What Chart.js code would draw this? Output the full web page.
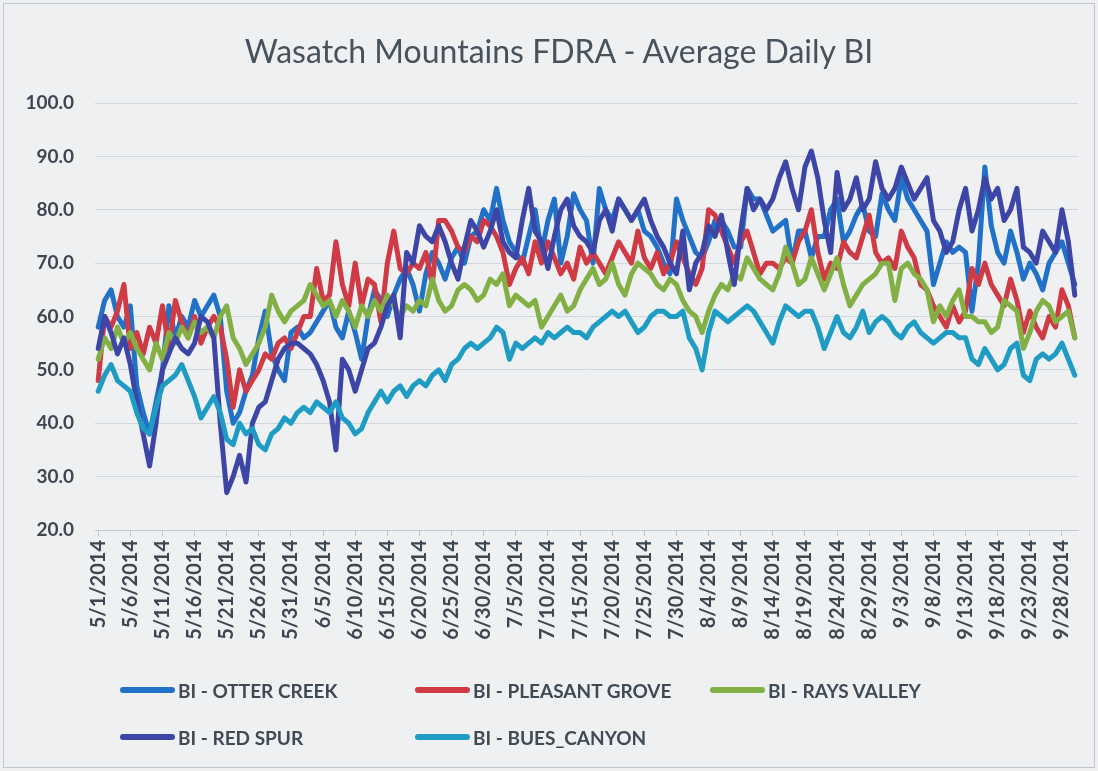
<!DOCTYPE html>
<html>
<head>
<meta charset="utf-8">
<title>Wasatch Mountains FDRA - Average Daily BI</title>
<script src="https://cdn.jsdelivr.net/npm/chart.js"></script>
<style>
  body { margin: 0; background: #eef0f2; }
  #wrap { position: relative; width: 1098px; height: 771px; overflow: hidden; }
  #frame { position: absolute; left: 3px; top: 3px; right: 3px; bottom: 3px; border: 1px solid #c3c7cb; }
  #title { position: absolute; left: 0; width: 1118px; top: 31px; line-height: 38px; text-align: center; font: 32px Lato, sans-serif; color: #47525d; white-space: nowrap; }
  .legend-item { position: absolute; display: flex; align-items: center; font: bold 19px Lato, sans-serif; color: #3f4a55; white-space: nowrap; }
  .legend-item .swatch { display: inline-block; width: 55px; height: 6px; border-radius: 3px; margin-right: 3px; }
</style>
</head>
<body>
<div id="wrap">
  <div id="frame"></div>
  <div id="title">Wasatch Mountains FDRA - Average Daily BI</div>
  <canvas id="chart" width="1098" height="771"></canvas>
  <div id="legend"></div>
</div>
<script>
// categories: one point per day, 5/1/2014 .. 9/30/2014
const months = [5, 6, 7, 8, 9]
const daysInMonth = [31, 30, 31, 31, 30]
const year = 2014
const labels = []
months.forEach((m, k) => {
    for (let d = 1; d <= daysInMonth[k]; d++) labels.push(`${m}/${d}/${year}`)
})

const seriesNames = ["BI - OTTER CREEK", "BI - PLEASANT GROVE", "BI - RAYS VALLEY", "BI - RED SPUR", "BI - BUES_CANYON"]
const seriesColors = ["#2171c9", "#cf3a45", "#82b045", "#3d46a7", "#1e9cc3"]

// values, one row per month (May .. Sep)
const otterCreek = [
    58, 63, 65, 60, 58, 62, 47, 42, 38, 44, 50, 62, 56, 60, 58, 63, 60, 62, 64, 60, 46, 40, 42, 46, 49, 56, 61, 53, 50, 48, 57,
    58, 56, 57, 59, 61, 63, 58, 56, 61, 57, 52, 60, 65, 63, 60, 64, 67, 69, 66, 61, 68, 72, 70, 67, 71, 73, 70, 75, 76, 80,
    78, 84, 78, 74, 72, 70, 75, 80, 72, 78, 82, 70, 75, 83, 80, 78, 70, 84, 80, 78, 82, 80, 78, 80, 76, 75, 73, 70, 68, 82, 78,
    75, 72, 71, 74, 78, 78, 76, 73, 73, 84, 82, 82, 79, 76, 77, 78, 70, 76, 76, 71, 75, 75, 80, 82, 74, 76, 79, 81, 76, 75, 83,
    80, 78, 86, 82, 80, 78, 76, 66, 70, 74, 72, 73, 72, 61, 70, 88, 77, 72, 70, 76, 72, 67, 70, 68, 65, 70, 72, 74, 70, 66
]
const pleasantGrove = [
    48, 60, 58, 61, 66, 54, 57, 53, 58, 55, 62, 54, 63, 59, 56, 60, 55, 58, 60, 58, 52, 43, 50, 46, 48, 50, 53, 52, 55, 56, 54,
    57, 60, 60, 69, 63, 64, 74, 66, 62, 70, 62, 67, 66, 59, 70, 76, 69, 68, 70, 69, 72, 66, 78, 78, 76, 73, 72, 75, 74, 78,
    77, 75, 72, 66, 69, 71, 68, 74, 70, 74, 71, 68, 70, 67, 73, 70, 72, 70, 68, 71, 74, 72, 70, 76, 71, 69, 72, 68, 70, 74, 71,
    68, 66, 69, 80, 79, 76, 73, 70, 74, 76, 72, 68, 70, 70, 69, 71, 70, 74, 76, 80, 72, 67, 70, 69, 74, 72, 71, 75, 79, 72, 70,
    71, 69, 76, 73, 71, 66, 65, 62, 60, 58, 62, 59, 61, 69, 66, 70, 66, 64, 62, 67, 63, 57, 61, 58, 56, 60, 58, 65, 62, 56
]
const raysValley = [
    52, 56, 54, 58, 55, 57, 54, 52, 50, 55, 52, 57, 55, 58, 56, 59, 57, 58, 56, 60, 62, 56, 54, 51, 53, 55, 58, 64, 61, 59, 61,
    62, 63, 66, 64, 62, 63, 60, 63, 61, 58, 62, 60, 63, 61, 64, 62, 60, 62, 61, 63, 62, 67, 63, 61, 62, 65, 66, 65, 63, 64,
    67, 66, 68, 62, 64, 63, 62, 63, 58, 60, 62, 64, 61, 62, 65, 67, 69, 66, 67, 70, 66, 64, 68, 70, 69, 68, 66, 65, 67, 66, 63,
    61, 60, 57, 61, 64, 66, 65, 68, 67, 71, 69, 67, 66, 65, 68, 73, 70, 66, 67, 71, 68, 65, 68, 71, 66, 62, 64, 66, 67, 68, 70,
    70, 63, 69, 70, 68, 67, 65, 59, 62, 60, 63, 65, 60, 60, 59, 59, 57, 58, 63, 62, 61, 54, 57, 61, 63, 62, 59, 60, 61, 56
]
const redSpur = [
    54, 60, 57, 53, 56, 51, 44, 38, 32, 40, 50, 53, 56, 54, 53, 55, 60, 59, 56, 40, 27, 30, 34, 29, 40, 43, 44, 48, 52, 54, 55,
    55, 54, 53, 51, 48, 44, 35, 52, 50, 46, 50, 54, 55, 58, 62, 64, 56, 72, 70, 77, 75, 74, 77, 74, 70, 67, 73, 78, 76, 73,
    76, 80, 74, 72, 71, 78, 84, 76, 74, 69, 75, 80, 82, 77, 75, 74, 72, 78, 80, 76, 82, 80, 78, 80, 82, 78, 75, 73, 70, 68, 76,
    65, 70, 72, 77, 75, 79, 72, 66, 76, 84, 80, 82, 80, 82, 86, 89, 84, 80, 88, 91, 86, 78, 72, 87, 80, 82, 86, 80, 82, 89, 84,
    82, 84, 88, 85, 82, 84, 86, 78, 76, 72, 74, 80, 84, 76, 80, 86, 82, 84, 78, 80, 84, 73, 72, 70, 76, 74, 72, 80, 74, 64
]
const buesCanyon = [
    46, 49, 51, 48, 47, 46, 42, 39, 38, 43, 47, 48, 49, 51, 48, 45, 41, 43, 45, 42, 37, 36, 40, 38, 39, 36, 35, 38, 39, 41, 40,
    42, 43, 42, 44, 43, 42, 44, 41, 40, 38, 39, 42, 44, 46, 44, 46, 47, 45, 47, 48, 47, 49, 50, 48, 51, 52, 54, 55, 54, 55,
    56, 58, 57, 52, 55, 54, 55, 56, 55, 57, 56, 57, 58, 57, 57, 56, 58, 59, 60, 61, 60, 61, 59, 57, 58, 60, 61, 61, 60, 60, 61,
    56, 54, 50, 57, 61, 60, 59, 60, 61, 62, 61, 59, 57, 55, 59, 62, 61, 60, 61, 61, 58, 54, 57, 60, 57, 56, 58, 61, 57, 59, 60,
    59, 57, 56, 58, 59, 57, 56, 55, 56, 57, 57, 56, 56, 52, 51, 54, 52, 50, 51, 54, 55, 49, 48, 52, 53, 52, 53, 55, 52, 49
]
const seriesValues = [otterCreek, pleasantGrove, raysValley, redSpur, buesCanyon]

const yTicks = [20, 30, 40, 50, 60, 70, 80, 90, 100]
const labelEvery = 5

const textColor = "#3c4752"

let datasets = seriesValues.map((values, i) => ({
    label: seriesNames[i],
    data: values,
    borderColor: seriesColors[i],
    backgroundColor: seriesColors[i],
    borderWidth: 5,
    pointRadius: 0,
    tension: 0,
    borderJoinStyle: "round",
    borderCapStyle: "round",
    // excel draws the last series on top
    order: seriesValues.length - i,
}))

new Chart(document.getElementById("chart").getContext("2d"), {
    type: "line",
    data: {labels: labels, datasets: datasets},
    options: {
        responsive: false,
        animation: false,
        // title and legend are html, the padding leaves room for them
        layout: {padding: {top: 103, right: 20, bottom: 130, left: 0}},
        plugins: {
            legend: {display: false},
            tooltip: {enabled: false},
        },
        scales: {
            x: {
                offset: true,
                grid: {display: true, drawOnChartArea: false, drawTicks: true, tickLength: 6, color: "#c2c6ca"},
                border: {display: true, color: "#c2c6ca"},
                ticks: {
                    autoSkip: false,
                    maxRotation: 90,
                    minRotation: 90,
                    padding: 4,
                    font: {family: "Lato", size: 20, weight: "bold"},
                    color: textColor,
                    callback: (value, index) => index % labelEvery === 0 ? labels[index] : null,
                },
                afterFit: (scale) => { scale.height = 111 },
            },
            y: {
                min: yTicks[0],
                max: yTicks[yTicks.length - 1],
                afterBuildTicks: (scale) => { scale.ticks = yTicks.map(v => ({value: v})) },
                ticks: {padding: 21, font: {family: "Lato", size: 19, weight: "bold"}, color: textColor, callback: (v) => Number(v).toFixed(1)},
                grid: {color: "#d3d7db", drawTicks: false},
                border: {display: false},
                afterFit: (scale) => { scale.width = 95 },
            },
        },
    },
})

// legend laid out like the excel one: three columns, two rows
const legendCols = [120, 415, 710]
const legendRows = [690, 737]
document.getElementById("legend").innerHTML = seriesNames.map((name, i) => {
    let left = legendCols[i % 3]
    let top = legendRows[Math.floor(i / 3)] - 12
    return `<div class="legend-item" style="left: ${left}px; top: ${top}px; height: 24px">
                <span class="swatch" style="background: ${seriesColors[i]}"></span>${name}
            </div>`
}).join("")
</script>
</body>
</html>
